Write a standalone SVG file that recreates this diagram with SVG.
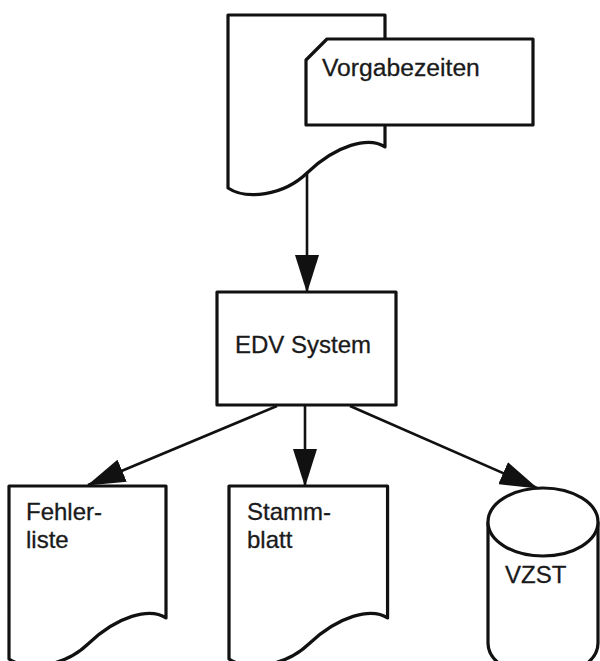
<svg xmlns="http://www.w3.org/2000/svg" xmlns:xlink="http://www.w3.org/1999/xlink" width="600" height="661" viewBox="0 0 600 661">
  <style>
    .shape { fill: #ffffff; stroke: #111111; stroke-width: 3.2; stroke-linejoin: round; }
    .edge { fill: none; stroke: #111111; stroke-width: 2.6; marker-end: url(#arrow); }
    .label { font-family: "Liberation Sans", Arial, Helvetica, sans-serif; font-size: 24px; fill: #1a1a1a; stroke: #1a1a1a; stroke-width: 0.3; }
  </style>
  <defs>
    <!-- filled arrowhead, tip at the end point of the line -->
    <marker id="arrow" viewBox="0 0 38 24" refX="37" refY="12" markerWidth="38" markerHeight="24" markerUnits="userSpaceOnUse" orient="auto">
      <path d="M0,0 L38,12 L0,24 Z" fill="#111111"/>
    </marker>
    <!-- document symbol with wavy bottom edge, origin at top-left -->
    <path id="doc" d="M0,0 H157 V132 C141,121 108,130 79,158 C55,181 18,185 0,173 Z"/>
  </defs>

  <rect width="600" height="661" fill="#ffffff"/>

  <g id="connectors">
    <line class="edge" x1="307" y1="172" x2="307" y2="292"/>
    <line class="edge" x1="277" y1="406" x2="88" y2="485"/>
    <line class="edge" x1="305" y1="406" x2="305" y2="486"/>
    <line class="edge" x1="350" y1="406" x2="537" y2="488"/>
  </g>

  <g id="input-document">
    <use xlink:href="#doc" class="shape" transform="translate(228,15)"/>
  </g>

  <g id="vorgabezeiten">
    <path class="shape" d="M327,39 H533 V125 H306 V60 Z"/>
    <text class="label" x="322" y="76" style="font-size:24.7px">Vorgabezeiten</text>
  </g>

  <g id="edv-system">
    <rect class="shape" x="217" y="292" width="179" height="113"/>
    <text class="label" x="235" y="353">EDV System</text>
  </g>

  <g id="fehlerliste">
    <use xlink:href="#doc" class="shape" transform="translate(9,486)"/>
    <text class="label" x="26" y="520">Fehler-</text>
    <text class="label" x="26" y="548">liste</text>
  </g>

  <g id="stammblatt">
    <use xlink:href="#doc" class="shape" transform="translate(229,486) scale(1.01,1)"/>
    <text class="label" x="247" y="520">Stamm-</text>
    <text class="label" x="247" y="548">blatt</text>
  </g>

  <g id="vzst">
    <path class="shape" d="M488,522 V643 A55,34 0 0 0 598,643 V522"/>
    <ellipse class="shape" cx="543" cy="522" rx="55" ry="34"/>
    <text class="label" x="505" y="583">VZST</text>
  </g>
</svg>
